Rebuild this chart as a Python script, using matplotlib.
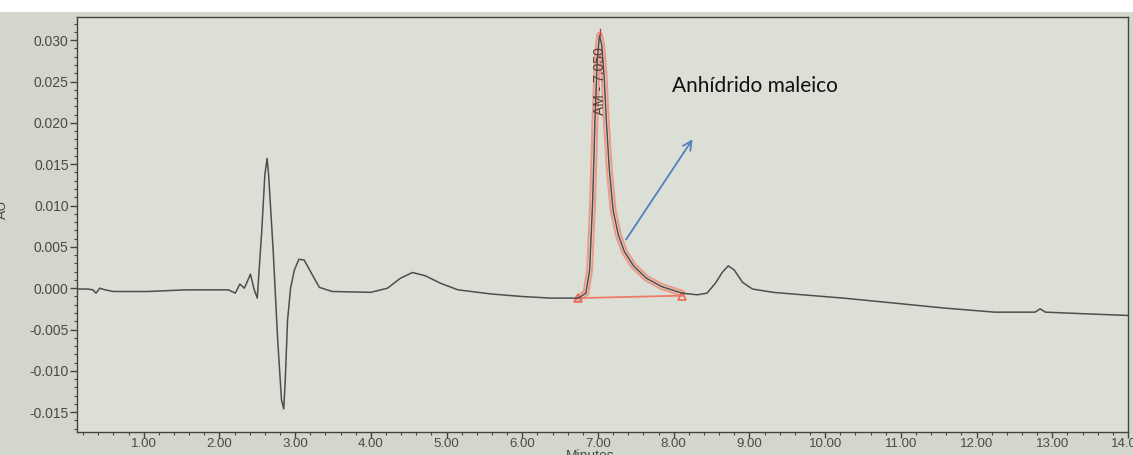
import numpy as np
import matplotlib.pyplot as plt
from matplotlib.patches import Rectangle
from matplotlib.ticker import MultipleLocator, FormatStrFormatter

# chromatogram trace (minutes, AU)
time_min = [0.13, 0.26, 0.33, 0.37, 0.42, 0.49, 0.60, 1.05, 1.56, 2.12,
            2.21, 2.27, 2.33, 2.41, 2.46, 2.50, 2.56, 2.60, 2.63, 2.65,
            2.71, 2.77, 2.82, 2.85, 2.87, 2.90, 2.94, 2.99, 3.05, 3.12,
            3.21, 3.32, 3.49, 4.00, 4.22, 4.39, 4.55, 4.72, 4.92, 5.15,
            5.59, 5.99, 6.38, 6.58, 6.74, 6.84, 6.89, 6.93, 6.96, 6.99,
            7.02, 7.05, 7.08, 7.11, 7.15, 7.20, 7.27, 7.35, 7.47, 7.64,
            7.84, 8.11, 8.31, 8.44, 8.55, 8.64, 8.72, 8.80, 8.91, 9.04,
            9.31, 9.57, 10.24, 10.91, 11.57, 12.24, 12.77, 12.84, 12.91, 13.44,
            14.0]
absorb = [-0.0001, -0.0001, -0.0002, -0.0006, 0.0000, -0.0002, -0.0004, -0.0004, -0.0002, -0.0002,
          -0.0006, 0.0005, 0.0000, 0.0017, -0.0002, -0.0012, 0.0070, 0.0137, 0.0157, 0.0137,
          0.0046, -0.0063, -0.0135, -0.0146, -0.0111, -0.0039, 0.0000, 0.0022, 0.0035, 0.0034,
          0.0019, 0.0001, -0.0004, -0.0005, 0.0000, 0.0012, 0.0019, 0.0015, 0.0006, -0.0002,
          -0.0007, -0.0010, -0.0012, -0.0012, -0.0012, -0.0006, 0.0022, 0.0106, 0.0203, 0.0276,
          0.0306, 0.0294, 0.0258, 0.0203, 0.0143, 0.0094, 0.0064, 0.0044, 0.0027, 0.0012,
          0.0002, -0.0006, -0.0008, -0.0006, 0.0006, 0.0019, 0.0027, 0.0022, 0.0007, -0.0001,
          -0.0005, -0.0007, -0.0012, -0.0018, -0.0024, -0.0029, -0.0029, -0.0025, -0.0029, -0.0031,
          -0.0033]

# integrated peak (maleic anhydride)
peak_start, peak_end = 6.74, 8.11
peak_base = [-0.0012, -0.0009]
peak_rt = 7.03
peak_label = 'AM - 7.050'

t = np.array(time_min)
a = np.array(absorb)

fig = plt.figure(figsize=(11.33, 4.55), dpi=100, facecolor='#d3d6ca')
fig.patches.append(Rectangle((0, 1 - 12 / 455), 1, 12 / 455, transform=fig.transFigure,
                             facecolor='white', edgecolor='none', zorder=-1))
ax = fig.add_axes([0.068, 0.0505, 0.9276, 0.912], facecolor='#dcdfd6')

# red outline of the integrated peak
sel = (t >= peak_start) & (t <= peak_end)
ax.plot(t[sel], a[sel], color='#f08a78', lw=5, alpha=0.8, solid_capstyle='round')
ax.plot(t[sel], a[sel], color='#e4ddd4', lw=2)
ax.plot([peak_start, peak_end], peak_base, color='#ee7a68', lw=1.3)
ax.plot([peak_start, peak_end], peak_base, ls='none', marker='^', ms=6,
        mfc='none', mec='#e86a58', mew=1.2)
ax.plot([peak_rt, peak_rt], [0.0306, 0.0313], color='#c04030', lw=1)

ax.plot(t, a, color='#4e4e4e', lw=1.1)

ax.text(peak_rt, 0.0251, peak_label, rotation=90, ha='center', va='center',
        fontsize=10, color='#553c38', family='Liberation Sans')

ax.annotate('', xy=(8.27, 0.0183), xytext=(7.35, 0.0056),
            arrowprops=dict(arrowstyle='->', color='#4f81bd', lw=1.3, mutation_scale=16))
ax.text(7.98, 0.0245, 'Anhídrido maleico', fontsize=15, family='Lato', color='#111111',
        ha='left', va='center')

ax.set_xlim(0.12, 14.0)
ax.set_ylim(-0.0174, 0.0328)
ax.xaxis.set_major_locator(MultipleLocator(1))
ax.xaxis.set_minor_locator(MultipleLocator(0.2))
ax.yaxis.set_major_locator(MultipleLocator(0.005))
ax.yaxis.set_minor_locator(MultipleLocator(0.001))
ax.xaxis.set_major_formatter(FormatStrFormatter('%.2f'))
ax.yaxis.set_major_formatter(FormatStrFormatter('%.3f'))
ax.tick_params(which='major', length=5, width=1, color='#444', labelsize=10,
               labelcolor='#4a4a4a', pad=1)
ax.tick_params(axis='x', which='major', length=4, labelsize=9.5, pad=0)
ax.tick_params(which='minor', length=2.5, width=0.8, color='#444')
for lab in ax.get_xticklabels() + ax.get_yticklabels():
    lab.set_family('Liberation Sans')
for s in ax.spines.values():
    s.set_color('#444')
    s.set_linewidth(1)

fig.text(590 / 1133, 1 - 449 / 455, 'Minutes', ha='center', va='top', fontsize=10,
         color='#4a4a4a', family='Liberation Sans')
fig.text(-0.004, 0.54, 'AU', rotation=90, ha='left', va='center', fontsize=10,
         color='#4a4a4a', family='Liberation Sans')

fig.savefig('out.png', dpi=100, facecolor=fig.get_facecolor())
